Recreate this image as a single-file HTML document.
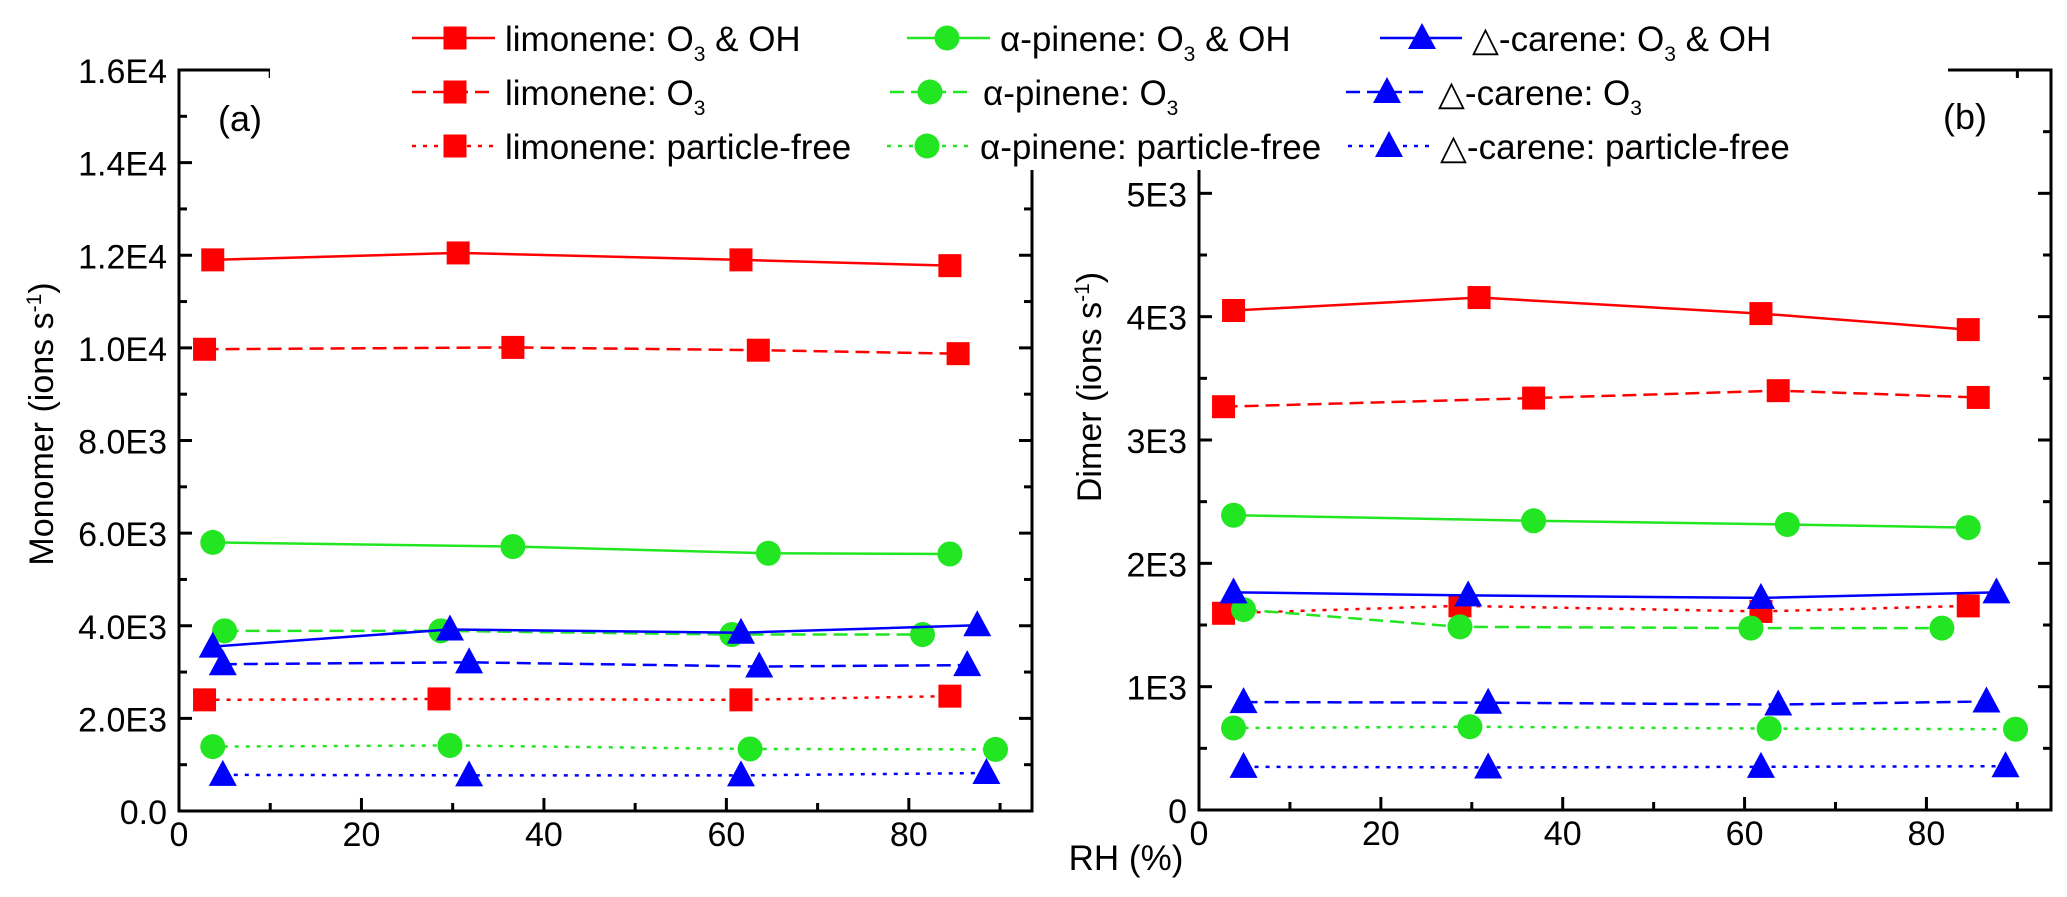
<!DOCTYPE html>
<html><head><meta charset="utf-8"><style>
html,body{margin:0;padding:0;background:#fff;}
svg{display:block;font-family:"Liberation Sans",Arial,sans-serif;}
</style></head><body>
<svg id="chart" width="2067" height="897" viewBox="0 0 2067 897" xmlns="http://www.w3.org/2000/svg">
<rect x="0" y="0" width="2067" height="897" fill="#fff"/>
<g id="pa"></g>
<g id="pb"></g>
<rect x="270" y="0" width="1678" height="170" fill="#fff"/>
<g id="legend"></g>
<text x="240" y="131" font-size="36" text-anchor="middle">(a)</text>
<text x="1965" y="129" font-size="36" text-anchor="middle">(b)</text>
<text x="1126" y="870" font-size="35" text-anchor="middle">RH (%)</text>
<text transform="translate(53,424) rotate(-90)" font-size="34" text-anchor="middle">Monomer (ions s<tspan dy="-12" font-size="21">-1</tspan><tspan dy="12">)</tspan></text>
<text transform="translate(1101,387) rotate(-90)" font-size="34" text-anchor="middle">Dimer (ions s<tspan dy="-12" font-size="21">-1</tspan><tspan dy="12">)</tspan></text>
</svg>
<script>
// ---- data: panel a (monomer) ----
const aLimOHx=[3.7,30.6,61.6,84.5];  const aLimOHy=[11900,12050,11900,11775];
const aLimO3x=[2.8,36.6,63.5,85.4];  const aLimO3y=[9970,10010,9950,9875];
const aLimPFx=[2.8,28.5,61.6,84.5];  const aLimPFy=[2400,2420,2400,2480];
const aPinOHx=[3.7,36.6,64.6,84.5];  const aPinOHy=[5800,5710,5565,5550];
const aPinO3x=[5.0,28.7,60.6,81.5];  const aPinO3y=[3890,3890,3810,3810];
const aPinPFx=[3.7,29.7,62.6,89.5];  const aPinPFy=[1390,1415,1340,1330];
const aCarOHx=[3.7,29.7,61.6,87.5];  const aCarOHy=[3550,3920,3850,4010];
const aCarO3x=[4.8,31.8,63.6,86.4];  const aCarO3y=[3170,3210,3120,3150];
const aCarPFx=[4.8,31.8,61.6,88.5];  const aCarPFy=[780,770,770,820];
// ---- data: panel b (dimer) ----
const bLimOHx=[3.8,30.8,61.8,84.6];  const bLimOHy=[4050,4155,4025,3895];
const bLimO3x=[2.7,36.8,63.7,85.7];  const bLimO3y=[3270,3340,3400,3345];
const bLimPFx=[2.7,28.7,61.8,84.6];  const bLimPFy=[1595,1655,1610,1655];
const bPinOHx=[3.8,36.8,64.7,84.6];  const bPinOHy=[2390,2345,2315,2290];
const bPinO3x=[4.9,28.7,60.7,81.7];  const bPinO3y=[1625,1485,1475,1475];
const bPinPFx=[3.8,29.8,62.7,89.8];  const bPinPFy=[665,675,660,655];
const bCarOHx=[3.8,29.6,61.8,87.7];  const bCarOHy=[1765,1740,1720,1765];
const bCarO3x=[4.9,31.8,63.7,86.6];  const bCarO3y=[875,870,855,880];
const bCarPFx=[4.9,31.8,61.8,88.7];  const bCarPFy=[350,345,350,355];
const xTicks=[0,20,40,60,80];
const aYTicks=[0,2000,4000,6000,8000,10000,12000,14000,16000];
const aYLabels=["0.0","2.0E3","4.0E3","6.0E3","8.0E3","1.0E4","1.2E4","1.4E4","1.6E4"];
const bYTicks=[0,1000,2000,3000,4000,5000];
const bYLabels=["0","1E3","2E3","3E3","4E3","5E3"];

const NS="http://www.w3.org/2000/svg";
function mk(parent,tag,attrs){const e=document.createElementNS(NS,tag);for(const k in attrs)e.setAttribute(k,attrs[k]);parent.appendChild(e);return e;}
const RED="#ff0000",GRN="#22e622",BLU="#0000ff";
const DASH={solid:"",dash:"14 7",dot:"4 7"};

function marker(g,shape,cx,cy,col){
  let m;
  if(shape==="sq") m=mk(g,"rect",{x:cx-11.5,y:cy-11.5,width:23,height:23,fill:col});
  else if(shape==="ci") m=mk(g,"circle",{cx:cx,cy:cy,r:12.5,fill:col});
  else m=mk(g,"polygon",{points:`${cx},${cy-15} ${cx-14},${cy+11} ${cx+14},${cy+11}`,fill:col});
  return m;
}

function panel(g,L,R,T,B,xmax,ymax,yTicks,yLabels,minorStep,series,prefix){
  const sx=v=>L+v/xmax*(R-L), sy=v=>B-v/ymax*(B-T);
  series.forEach(s=>{
    const sg=mk(g,"g",{});
    
    
    const pts=s.x.map((v,i)=>sx(v)+","+sy(s.y[i])).join(" ");
    const pl=mk(sg,"polyline",{points:pts,fill:"none",stroke:s.col,"stroke-width":2.5});
    if(DASH[s.ls]) pl.setAttribute("stroke-dasharray",DASH[s.ls]);
    s.x.forEach((v,i)=>{
      const m=marker(sg,s.mk,sx(v),sy(s.y[i]),s.col);
      
      
    });
  });
  const fr=mk(g,"rect",{x:L,y:T,width:R-L,height:B-T,fill:"none",stroke:"#000","stroke-width":3});
  
  
  const ax=mk(g,"g",{stroke:"#000","stroke-width":3});
  
  
  for(let v=0;v<=xmax;v+=10){
    const x=sx(v),len=(v%20===0)?13:8;
    mk(ax,"line",{x1:x,y1:B,x2:x,y2:B-len});
    mk(ax,"line",{x1:x,y1:T,x2:x,y2:T+len});
  }
  for(let v=0;v<=ymax+1;v+=minorStep){
    const y=sy(v),major=yTicks.includes(v),len=major?13:8;
    mk(ax,"line",{x1:L,y1:y,x2:L+len,y2:y});
    mk(ax,"line",{x1:R,y1:y,x2:R-len,y2:y});
  }
  xTicks.forEach(v=>{
    const t=mk(g,"text",{x:sx(v),y:B+35,"font-size":34,"text-anchor":"middle"});
    t.textContent=v;
    
    
  });
  yTicks.forEach((v,i)=>{
    const t=mk(g,"text",{x:L-12,y:sy(v)+13,"font-size":34,"text-anchor":"end"});
    t.textContent=yLabels[i];
    
    
  });
}

function S(name,x,y,col,mkS,ls){return {name,x,y,col,mk:mkS,ls};}
panel(document.getElementById("pa"),179,1032,70,811,93.5,16000,aYTicks,aYLabels,1000,[
  S("limonene-o3-oh",aLimOHx,aLimOHy,RED,"sq","solid"),
  S("limonene-o3",aLimO3x,aLimO3y,RED,"sq","dash"),
  S("limonene-particle-free",aLimPFx,aLimPFy,RED,"sq","dot"),
  S("pinene-o3-oh",aPinOHx,aPinOHy,GRN,"ci","solid"),
  S("pinene-o3",aPinO3x,aPinO3y,GRN,"ci","dash"),
  S("pinene-particle-free",aPinPFx,aPinPFy,GRN,"ci","dot"),
  S("carene-o3-oh",aCarOHx,aCarOHy,BLU,"tr","solid"),
  S("carene-o3",aCarO3x,aCarO3y,BLU,"tr","dash"),
  S("carene-particle-free",aCarPFx,aCarPFy,BLU,"tr","dot")],"monomer");
panel(document.getElementById("pb"),1199,2051,70,810,93.7,6000,bYTicks,bYLabels,500,[
  S("limonene-o3-oh",bLimOHx,bLimOHy,RED,"sq","solid"),
  S("limonene-o3",bLimO3x,bLimO3y,RED,"sq","dash"),
  S("limonene-particle-free",bLimPFx,bLimPFy,RED,"sq","dot"),
  S("pinene-o3-oh",bPinOHx,bPinOHy,GRN,"ci","solid"),
  S("pinene-o3",bPinO3x,bPinO3y,GRN,"ci","dash"),
  S("pinene-particle-free",bPinPFx,bPinPFy,GRN,"ci","dot"),
  S("carene-o3-oh",bCarOHx,bCarOHy,BLU,"tr","solid"),
  S("carene-o3",bCarO3x,bCarO3y,BLU,"tr","dash"),
  S("carene-particle-free",bCarPFx,bCarPFy,BLU,"tr","dot")],"dimer");

const lg=document.getElementById("legend");
const legendItems=[
  {x1:412,x2:495,mx:455,tx:505,y:38,col:RED,mk:"sq",ls:"solid",pre:"limonene: O",sub:"3",post:" & OH"},
  {x1:412,x2:495,mx:455,tx:505,y:92,col:RED,mk:"sq",ls:"dash",pre:"limonene: O",sub:"3",post:""},
  {x1:412,x2:495,mx:455,tx:505,y:146,col:RED,mk:"sq",ls:"dot",pre:"limonene: particle-free",sub:"",post:""},
  {x1:907,x2:990,mx:947,tx:1000,y:38,col:GRN,mk:"ci",ls:"solid",pre:"α-pinene: O",sub:"3",post:" & OH"},
  {x1:890,x2:972,mx:930,tx:983,y:92,col:GRN,mk:"ci",ls:"dash",pre:"α-pinene: O",sub:"3",post:""},
  {x1:887,x2:968,mx:927,tx:980,y:146,col:GRN,mk:"ci",ls:"dot",pre:"α-pinene: particle-free",sub:"",post:""},
  {x1:1380,x2:1462,mx:1422,tx:1472,y:38,col:BLU,mk:"tr",ls:"solid",pre:"△-carene: O",sub:"3",post:" & OH"},
  {x1:1346,x2:1429,mx:1387,tx:1438,y:92,col:BLU,mk:"tr",ls:"dash",pre:"△-carene: O",sub:"3",post:""},
  {x1:1348,x2:1430,mx:1389,tx:1440,y:146,col:BLU,mk:"tr",ls:"dot",pre:"△-carene: particle-free",sub:"",post:""}
];
legendItems.forEach(it=>{
  const g=mk(lg,"g",{});
  
  
  const l=mk(g,"line",{x1:it.x1,y1:it.y,x2:it.x2,y2:it.y,stroke:it.col,"stroke-width":2.5});
  if(DASH[it.ls]) l.setAttribute("stroke-dasharray",DASH[it.ls]);
  marker(g,it.mk,it.mx,it.y,it.col);
  const t=mk(g,"text",{x:it.tx,y:it.y+13,"font-size":35});
  t.appendChild(document.createTextNode(it.pre));
  if(it.sub){
    const s=mk(t,"tspan",{dy:10,"font-size":21});s.textContent=it.sub;
    const p=mk(t,"tspan",{dy:-10});p.textContent=it.post||"\u200b";
  }
});
</script>
</body></html>
